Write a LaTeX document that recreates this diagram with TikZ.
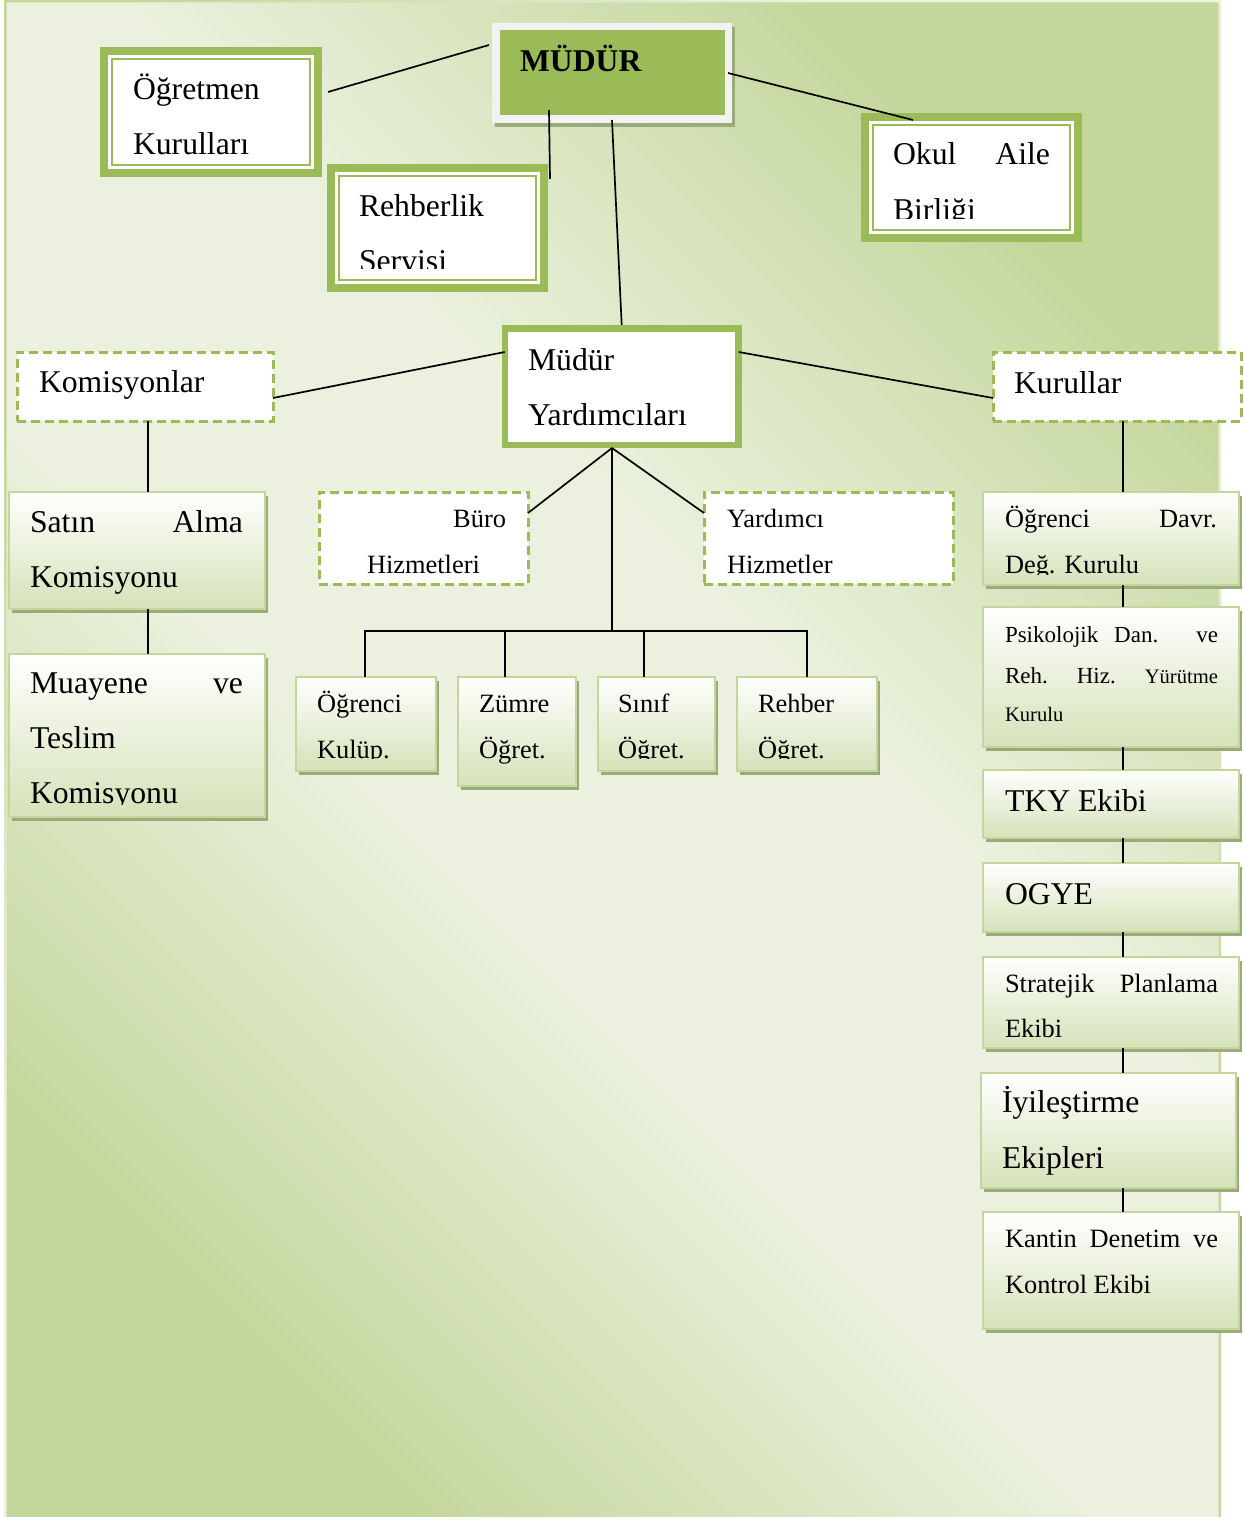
\documentclass[tikz,border=0pt]{standalone}
\usepackage{fontspec}
\setmainfont{Liberation Serif}
\usetikzlibrary{shadows,calc}

\definecolor{grn}{HTML}{9BBB59}
\definecolor{bgD}{HTML}{C3D69B}
\definecolor{bgL}{HTML}{EBF1DE}
\definecolor{boxB}{HTML}{D5E2B9}
\definecolor{boxEdge}{HTML}{C3D69B}
\definecolor{shd}{RGB}{154,170,122}
\definecolor{frm}{HTML}{F2F2F2}

\pgfdeclareverticalshading{bgsh}{100bp}{color(0bp)=(bgD); color(25bp)=(bgD); color(43bp)=(bgL); color(57bp)=(bgL); color(75bp)=(bgD); color(100bp)=(bgD)}
\pgfdeclareverticalshading{bgshrev}{100bp}{color(0bp)=(bgL); color(25bp)=(bgL); color(43bp)=(bgD); color(57bp)=(bgD); color(75bp)=(bgL); color(100bp)=(bgL)}

\newcommand\fzL{\fontsize{31.7}{38}\selectfont}
\newcommand\fzM{\fontsize{26.4}{32}\selectfont}
\newcommand\fzS{\fontsize{23}{28}\selectfont}
\newcommand\fzXS{\fontsize{20.6}{25}\selectfont}

\tikzset{
  basebox/.style={rectangle, inner sep=0pt, outer sep=0pt},
  dbl/.style={basebox, fill=grn, path picture={
      \fill[white] ([shift={(8pt,8pt)}]path picture bounding box.south west) rectangle ([shift={(-8pt,-8pt)}]path picture bounding box.north east);
      \draw[grn, line width=2.2pt] ([shift={(12pt,12pt)}]path picture bounding box.south west) rectangle ([shift={(-12pt,-12pt)}]path picture bounding box.north east);}},
  myst/.style={basebox, fill=grn, path picture={
      \fill[white] ([shift={(6.5pt,6.5pt)}]path picture bounding box.south west) rectangle ([shift={(-6.5pt,-6.5pt)}]path picture bounding box.north east);}},
  mudst/.style={basebox, fill=frm, drop shadow={shadow xshift=3pt, shadow yshift=-4pt, fill=shd, opacity=1}, path picture={
      \fill[grn] ([shift={(7.5pt,7.5pt)}]path picture bounding box.south west) rectangle ([shift={(-7.5pt,-7.5pt)}]path picture bounding box.north east);}},
  gbox/.style={basebox, draw=boxEdge, line width=2pt, top color=white, bottom color=boxB, drop shadow={shadow xshift=3pt, shadow yshift=-4pt, fill=shd, opacity=1}},
  dbox/.style={basebox, draw=grn, line width=3pt, dash pattern=on 9pt off 5pt, fill=white},
  conn/.style={draw=black, line width=1.7pt},
  txt/.style={anchor=base west, inner sep=0pt, outer sep=0pt, text=black}
}

\begin{document}
\begin{tikzpicture}[x=1pt,y=-1pt]
\useasboundingbox (0,0) rectangle (1244,1517);
% background
\shade[shading=bgsh, shading angle=-45] (4,0) rectangle (1221,1521);
\shade[even odd rule, shading=bgshrev, shading angle=-45] (4,0) rectangle (1221,1521) (6.5,2.5) rectangle (1218.5,1521);

% boxes
\node[dbl, minimum width=222pt, minimum height=130pt] (ogr) at (211,112) {};
\node[dbl, minimum width=221pt, minimum height=128pt] (reh) at (437.5,228) {};
\node[dbl, minimum width=221pt, minimum height=129pt] (okul) at (971.5,177.5) {};
\node[mudst, minimum width=240pt, minimum height=100pt] (mud) at (612,73) {};
\node[myst, minimum width=240pt, minimum height=123pt] (myrd) at (621.7,386.5) {};
\node[dbox, minimum width=256pt, minimum height=69pt] (kom) at (145,386.5) {};
\node[dbox, minimum width=248pt, minimum height=69pt] (kur) at (1117,386.5) {};
\node[gbox, minimum width=256pt, minimum height=117pt] (satin) at (137,550.5) {};
\node[gbox, minimum width=256pt, minimum height=163pt] (muay) at (137,735.5) {};
\node[dbox, minimum width=209pt, minimum height=92pt] (buro) at (423.5,538) {};
\node[dbox, minimum width=249pt, minimum height=92pt] (yard) at (828.5,538) {};
\node[gbox, minimum width=140pt, minimum height=94pt] (okulup) at (366,724) {};
\node[gbox, minimum width=118pt, minimum height=109pt] (zumre) at (517,731.5) {};
\node[gbox, minimum width=117pt, minimum height=94pt] (sinif) at (656.5,724) {};
\node[gbox, minimum width=140pt, minimum height=94pt] (rehog) at (807,724) {};
\node[gbox, minimum width=256pt, minimum height=93pt] (odd) at (1111,538.5) {};
\node[gbox, minimum width=256pt, minimum height=140pt] (pdr) at (1111,677) {};
\node[gbox, minimum width=256pt, minimum height=68pt] (tky) at (1111,804) {};
\node[gbox, minimum width=256pt, minimum height=69pt] (ogye) at (1111,897.5) {};
\node[gbox, minimum width=256pt, minimum height=91pt] (strat) at (1111,1002.5) {};
\node[gbox, minimum width=255pt, minimum height=115pt] (iyi) at (1108.5,1130.5) {};
\node[gbox, minimum width=256pt, minimum height=117pt] (kantin) at (1111,1270.5) {};

% connectors
\draw[conn] ([xshift=-3pt,yshift=28pt]mud.west) -- ([xshift=6pt,yshift=20pt]ogr.east);
\draw[conn] ([xshift=-4pt]mud.east) -- ([xshift=-58.5pt,yshift=-7pt]okul.north);
\draw[conn] ([xshift=-63pt,yshift=13pt]mud.south) -- ([xshift=2pt,yshift=-15pt]reh.north east);
\draw[conn] ([yshift=3pt]mud.south) -- (myrd.north);
\draw[conn] ([yshift=-11.5pt]kom.east) -- ([xshift=3pt,yshift=34.5pt]myrd.west);
\draw[conn] ([xshift=-3pt,yshift=34.5pt]myrd.east) -- ([yshift=-11.5pt]kur.west);
\coordinate (fan) at ([xshift=-9.7pt]myrd.south);
\coordinate (hub) at ([yshift=-183pt]fan);
\draw[conn] (fan) -- ([yshift=25pt]buro.east);
\draw[conn] (fan) -- ([yshift=25pt]yard.west);
\draw[conn] (fan) -- (hub);
\draw[conn] ([xshift=-1pt]okulup.north) |- (hub);
\draw[conn] ([xshift=-12pt]zumre.north) |- (hub);
\draw[conn] ([xshift=-12.5pt]sinif.north) |- (hub);
\draw[conn] (rehog.north) |- (hub);
\draw[conn] ([xshift=3pt]kom.south) -- ([xshift=11pt]satin.north);
\draw[conn] ([xshift=11pt]satin.south) -- ([xshift=11pt]muay.north);
\draw[conn] ([xshift=6pt]kur.south) -- ([xshift=12pt]odd.north);
\draw[conn] ([xshift=12pt]odd.south) -- ([xshift=12pt]pdr.north);
\draw[conn] ([xshift=12pt]pdr.south) -- ([xshift=12pt]tky.north);
\draw[conn] ([xshift=12pt]tky.south) -- ([xshift=12pt]ogye.north);
\draw[conn] ([xshift=12pt]ogye.south) -- ([xshift=12pt]strat.north);
\draw[conn] ([xshift=12pt]strat.south) -- ([xshift=14.5pt]iyi.north);
\draw[conn] ([xshift=14.5pt]iyi.south) -- ([xshift=12pt]kantin.north);

% texts
\node[txt] (ogr1) at (133,100) {\fzL Öğretmen};
\node[txt] (ogr2) at (133,155) {\fzL Kurulları};
\node[txt] (reh1) at (359,216) {\fzL Rehberlik};
\begin{scope}
  \clip (327,164) rectangle (548,268.5);
  \node[txt] (reh2) at (359,271) {\fzL Servisi};
\end{scope}
\node[txt] (mud1) at (520,72) {\fzL\bfseries MÜDÜR};
\node[txt] (okul1) at (893,165) {\fzL\makebox[157pt][s]{Okul Aile}};
\begin{scope}
  \clip (861,113) rectangle (1082,218.5);
  \node[txt] (okul2) at (893,220) {\fzL Birliği};
\end{scope}
\node[txt] (my1) at (528,370) {\fzL Müdür};
\node[txt] (my2) at (528,425) {\fzL Yardımcıları};
\node[txt] (kom1) at (39,392) {\fzL Komisyonlar};
\node[txt] (kur1) at (1014,393) {\fzL Kurullar};
\node[txt] (sat1) at (30,532) {\fzL\makebox[213pt][s]{Satın Alma}};
\node[txt] (sat2) at (30,587) {\fzL Komisyonu};
\node[txt] (mu1) at (30,693) {\fzL\makebox[213pt][s]{Muayene ve}};
\node[txt] (mu2) at (30,748) {\fzL Teslim};
\begin{scope}
  \clip (9,654) rectangle (265,804.5);
  \node[txt] (mu3) at (30,803) {\fzL Komisyonu};
\end{scope}
\node[txt, anchor=base east] (bu1) at (506,527) {\fzM Büro};
\node[txt] (bu2) at (367,573) {\fzM Hizmetleri};
\node[txt] (ya1) at (727,527) {\fzM Yardımcı};
\node[txt] (ya2) at (727,573) {\fzM Hizmetler};
\node[txt] (og1) at (317,712) {\fzM Öğrenci};
\node[txt] (zu1) at (479,712) {\fzM Zümre};
\node[txt] (zu2) at (479,758) {\fzM Öğret.};
\node[txt] (si1) at (618,712) {\fzM Sınıf};
\node[txt] (re1) at (758,712) {\fzM Rehber};
\begin{scope}
  \clip (296,677) rectangle (877,758.8);
  \node[txt] (og2) at (317,758) {\fzM Kulüp.};
  \node[txt] (si2) at (618,758) {\fzM Öğret.};
  \node[txt] (re2) at (758,758) {\fzM Öğret.};
\end{scope}
\node[txt] (od1) at (1005,527) {\fzM\makebox[212pt][s]{Öğrenci Davr.}};
\begin{scope}
  \clip (983,492) rectangle (1239,574.5);
  \node[txt] (od2) at (1005,573) {\fzM Değ. Kurulu};
\end{scope}
\node[txt] (pd1) at (1005,642) {\fzS\makebox[213pt][s]{Psikolojik Dan. ve}};
\node[txt] (pd2) at (1005,683) {\fzS\makebox[213pt][s]{Reh. Hiz. {\fzXS Yürütme}}};
\node[txt] (pd3) at (1005,721) {\fzXS Kurulu};
\node[txt] (tk1) at (1005,811) {\fzL TKY Ekibi};
\node[txt] (oy1) at (1005,904) {\fzL OGYE};
\node[txt] (st1) at (1005,992) {\fzM\makebox[213pt][s]{Stratejik Planlama}};
\node[txt] (st2) at (1005,1037) {\fzM Ekibi};
\node[txt] (iy1) at (1002,1112) {\fzL İyileştirme};
\node[txt] (iy2) at (1002,1168) {\fzL Ekipleri};
\node[txt] (ka1) at (1005,1247) {\fzM\makebox[213pt][s]{Kantin Denetim ve}};
\node[txt] (ka2) at (1005,1293) {\fzM Kontrol Ekibi};
\end{tikzpicture}
\end{document}
